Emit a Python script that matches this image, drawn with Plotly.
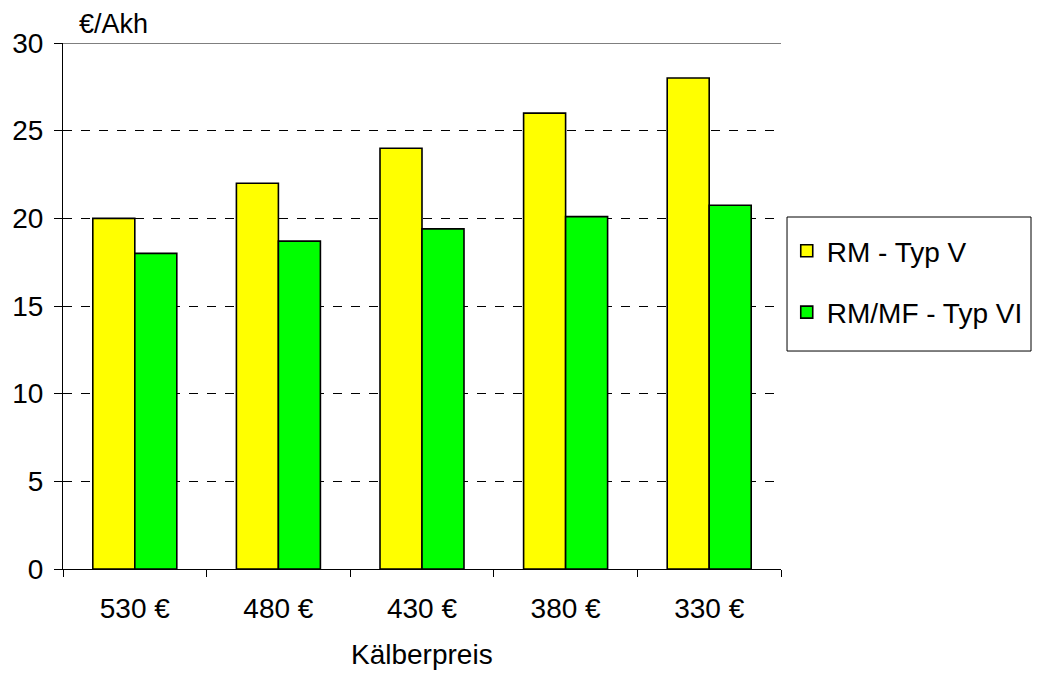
import plotly.graph_objects as go

# Kälberpreis scenarios and income per labour hour (€/Akh)
categories = ["530 €", "480 €", "430 €", "380 €", "330 €"]
rm_typ_v = [20.0, 22.0, 24.0, 26.0, 28.0]
rm_mf_typ_vi = [18.0, 18.7, 19.4, 20.1, 20.75]
y_ticks = [0, 5, 10, 15, 20, 25, 30]

FONT = "Liberation Sans, Arial, sans-serif"

fig = go.Figure()
fig.add_trace(go.Bar(
    x=categories, y=rm_typ_v, name="RM - Typ V",
    marker=dict(color="#FFFF00", line=dict(color="black", width=1.6)),
    legendgroup="a",
))
fig.add_trace(go.Bar(
    x=categories, y=rm_mf_typ_vi, name="RM/MF - Typ VI",
    marker=dict(color="#00FF00", line=dict(color="black", width=1.6)),
    legendgroup="b",
))

fig.update_layout(
    width=1041, height=673,
    margin=dict(l=63, r=260, t=43, b=104, autoexpand=False),
    paper_bgcolor="white", plot_bgcolor="white",
    font=dict(family=FONT, size=28, color="black"),
    barmode="group", bargap=0.415, bargroupgap=0,
    showlegend=True,
    legend=dict(
        x=1.008, y=0.652, xanchor="left", yanchor="top",
        borderwidth=0, bgcolor="rgba(0,0,0,0)",
        font=dict(family=FONT, size=28),
        traceorder="grouped", tracegroupgap=22,
        itemwidth=30,
    ),
    xaxis=dict(
        type="category", showline=True, linecolor="black", linewidth=1,
        ticks="outside", tickson="boundaries", ticklen=7, tickcolor="black",
        ticklabelstandoff=14, automargin=False,
        showgrid=False, tickfont=dict(size=28),
    ),
    yaxis=dict(
        range=[0, 30], tickvals=y_ticks, showline=True, linecolor="black",
        linewidth=1, ticks="outside", ticklen=8, tickcolor="black",
        ticklabelstandoff=5, automargin=False,
        showgrid=True, gridcolor="black", gridwidth=1, griddash="dash",
        zeroline=False, tickfont=dict(size=28),
    ),
)

# solid top line at 30
fig.add_shape(type="line", xref="paper", yref="y", x0=0, x1=1, y0=30, y1=30,
              line=dict(color="black", width=1))

# frame around the legend
fig.add_shape(type="rect", xref="paper", yref="paper",
              x0=1.0084, x1=1.3482, y0=0.4144, y1=0.6692,
              line=dict(color="black", width=1), fillcolor="rgba(0,0,0,0)",
              layer="below")

# axis captions
fig.add_annotation(text="€/Akh", xref="paper", yref="paper", x=0.02, y=1.0,
                   xanchor="left", yanchor="bottom", showarrow=False,
                   font=dict(family=FONT, size=27), yshift=2)
fig.add_annotation(text="Kälberpreis", xref="paper", yref="paper", x=0.5, y=0,
                   xanchor="center", yanchor="middle", showarrow=False,
                   font=dict(family=FONT, size=28), yshift=-85)

fig.write_html("out.html")
